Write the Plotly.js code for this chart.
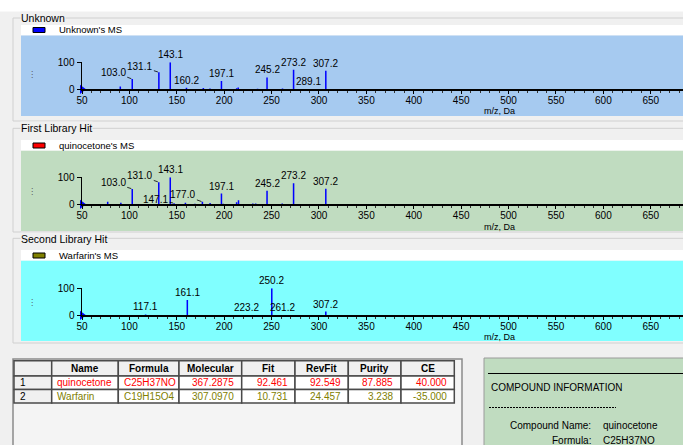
<!DOCTYPE html>
<html><head><meta charset="utf-8">
<script src="https://cdn.plot.ly/plotly-3.0.1.min.js"></script>
<style>html,body{margin:0;padding:0;background:#F0F0F0;overflow:hidden}#chart{width:683px;height:445px}</style>
</head><body><div id="chart"></div>
<script>
// ---------------- DATA ----------------
const unknownMz  = [90.4, 103.0, 131.1, 143.1, 160.2, 178.0, 185.0, 197.1, 213.2, 214.8, 235.2, 245.2, 261.5, 273.2, 289.1, 307.2];
const unknownInt = [10,   38,    63,    100,   6,     5,     3,     31,    4,     7,     2,     44,    3,     72,    1.5,   69];
const unknownLabelMz = [103.0, 131.1, 143.1, 160.2, 197.1, 245.2, 273.2, 289.1, 307.2];

const quinoMz  = [77.1, 91.0, 103.0, 131.0, 143.1, 147.1, 159.1, 169.1, 177.0, 185.1, 197.1, 199.1, 213.1, 215.1, 230.2, 233.2, 245.2, 261.2, 273.2, 307.2];
const quinoInt = [9,    6,    57,    82,    100,   4,     6,     2,     9,     5,     40,    2,     8,     15,    3,     3,     50,    3,     78,    58];
const quinoLabelMz = [103.0, 131.0, 143.1, 147.1, 177.0, 197.1, 245.2, 273.2, 307.2];

const warfMz  = [117.1, 161.1, 223.2, 250.2, 261.2, 307.2];
const warfInt = [3,     57,    1,     100,   1.5,   14];
const warfLabelMz = [117.1, 161.1, 223.2, 250.2, 261.2, 307.2];

const cursorMz = [50];
const cursorInt = [0];

const xTickStart = 50;
const xTickStep = 50;
const yTickVals = [0, 100];

const panelTitles = ["Unknown", "First Library Hit", "Second Library Hit"];
const legendNames = ["Unknown's MS", "quinocetone's MS", "Warfarin's MS"];
const xAxisTitle = "m/z, Da";

const tableHeader = ["", "Name", "Formula", "Molecular", "Fit", "RevFit", "Purity", "CE"];
const hitIndex     = ["1", "2"];
const hitName      = ["quinocetone", "Warfarin"];
const hitFormula   = ["C25H37NO", "C19H15O4"];
const hitMolecular = [367.2875, 307.0970];
const hitFit       = [92.461, 10.731];
const hitRevFit    = [92.549, 24.457];
const hitPurity    = [87.885, 3.238];
const hitCE        = [40.000, -35.000];

const infoTitle = "COMPOUND INFORMATION";
const infoKeys = ["Compound Name:", "Formula:"];
const infoVals = [hitName[0], hitFormula[0]];

// ---------------- STYLE ----------------
const W = 683, H = 445;
const px = v => v / W;
const py = v => 1 - v / H;
const FONT = "Liberation Sans, Arial, sans-serif";
const BAR_COLOR = "#0000FF";
const rowColors = ["#FF0000", "#808000"];

const panelStyle = [
  {base: 89.3,  boxTop: 18,    boxBot: 121, strip: [25, 35.5],   bg: [35.5, 116], bgColor: "#A6CAF0", swatch: "#0000FF", titleY: 18,    legY: 30,    gripY: 75,  mzTitleY: 111},
  {base: 204.3, boxTop: 128.3, boxBot: 232, strip: [140, 150.7], bg: [150.7, 231], bgColor: "#C0DCC0", swatch: "#FF0000", titleY: 128.3, legY: 145.5, gripY: 191, mzTitleY: 227},
  {base: 315.3, boxTop: 238.3, boxBot: 343, strip: [250, 260.7], bg: [260.7, 341], bgColor: "#80FFFF", swatch: "#808000", titleY: 239,   legY: 255.5, gripY: 302, mzTitleY: 337}
];
const leaderOffsets = [
  {"103.0": [-19, -7], "131.1": [-19, -6]},
  {"103.0": [-19, -6], "131.0": [-19, -6.5], "147.1": [-18.5, -4], "177.0": [-19.5, -7]},
  {}
];

const series = [
  {mz: unknownMz, int: unknownInt, lab: unknownLabelMz},
  {mz: quinoMz, int: quinoInt, lab: quinoLabelMz},
  {mz: warfMz, int: warfInt, lab: warfLabelMz}
];

const data = [];
const shapes = [];
const annotations = [];
const layout = {
  width: W, height: H,
  margin: {l: 0, r: 0, t: 0, b: 0, pad: 0},
  paper_bgcolor: "#F0F0F0",
  plot_bgcolor: "rgba(0,0,0,0)",
  showlegend: false,
  font: {family: FONT, size: 10, color: "#000"},
  shapes: shapes,
  annotations: annotations
};

shapes.push({type: "rect", xref: "paper", yref: "paper", x0: 0, x1: 1, y0: py(0), y1: py(11.5), fillcolor: "#FFFFFF", line: {width: 0}, layer: "below"});

series.forEach((s, i) => {
  const st = panelStyle[i];
  const n = i === 0 ? "" : String(i + 1);
  shapes.push({type: "rect", xref: "paper", yref: "paper", x0: px(13), x1: px(700), y0: py(st.boxBot), y1: py(st.boxTop), fillcolor: "rgba(0,0,0,0)", line: {color: "#D0D0D0", width: 1}, layer: "below"});
  shapes.push({type: "rect", xref: "paper", yref: "paper", x0: px(21), x1: 1, y0: py(st.strip[1]), y1: py(st.strip[0]), fillcolor: "#FFFFFF", line: {width: 0}, layer: "below"});
  shapes.push({type: "rect", xref: "paper", yref: "paper", x0: px(21), x1: 1, y0: py(st.bg[1]), y1: py(st.bg[0]), fillcolor: st.bgColor, line: {width: 0}, layer: "below"});
  const sy = st.legY;
  shapes.push({type: "rect", xref: "paper", yref: "paper", x0: px(33), x1: px(45), y0: py(sy + 2.5), y1: py(sy - 2.5), fillcolor: st.swatch, line: {color: "#000", width: 1}, layer: "above"});
  annotations.push({xref: "paper", yref: "paper", x: px(57), y: py(sy), xanchor: "left", yanchor: "middle", text: legendNames[i], showarrow: false, font: {size: 9.5, family: FONT}});
  annotations.push({xref: "paper", yref: "paper", x: px(20), y: py(st.titleY), xanchor: "left", yanchor: "middle", text: panelTitles[i], showarrow: false, bgcolor: "#F0F0F0", borderpad: 0, font: {size: 10.5, family: FONT}});
  annotations.push({xref: "paper", yref: "paper", x: px(32), y: py(st.gripY), xanchor: "center", yanchor: "middle", text: "⋮", showarrow: false, font: {size: 8, family: "DejaVu Sans", color: "#555"}});
  annotations.push({xref: "paper", yref: "paper", x: px(499), y: py(st.mzTitleY), xanchor: "center", yanchor: "middle", text: xAxisTitle, showarrow: false, borderpad: 0, font: {size: 9, family: FONT}});

  data.push({type: "bar", x: s.mz, y: s.int, xaxis: "x" + n, yaxis: "y" + n, width: 1.6, marker: {color: BAR_COLOR, line: {width: 0}}, hoverinfo: "skip"});
  data.push({type: "scatter", mode: "markers", x: cursorMz, y: cursorInt, xaxis: "x" + n, yaxis: "y" + n, cliponaxis: false, marker: {symbol: "triangle-right", size: 8, color: "#0000FF"}, hoverinfo: "skip"});

  layout["xaxis" + n] = {
    domain: [px(82), 1], range: [50, 684], anchor: "y" + n,
    showgrid: false, zeroline: false, showline: true, linecolor: "#000", linewidth: 2,
    ticks: "outside", ticklen: 3, tickwidth: 1, tickcolor: "#000",
    tick0: xTickStart, dtick: xTickStep, ticklabelstandoff: -2,
    minor: {dtick: 10, ticks: "outside", ticklen: 2, tickwidth: 1, tickcolor: "#333"},
    tickfont: {size: 10, family: FONT, color: "#000"}, fixedrange: true
  };
  layout["yaxis" + n] = {
    domain: [py(st.base), py(st.base - 27)], range: [0, 100], anchor: "x" + n,
    showgrid: false, zeroline: false, showline: true, linecolor: "#000", linewidth: 1.5,
    ticks: "outside", ticklen: 4, tickwidth: 1, tickcolor: "#000",
    tickmode: "array", tickvals: yTickVals, ticktext: yTickVals.map(String),
    tickfont: {size: 10, family: FONT, color: "#000"}, fixedrange: true
  };

  s.lab.forEach(m => {
    const idx = s.mz.indexOf(m);
    const h = s.int[idx];
    const t = m.toFixed(1);
    const off = leaderOffsets[i][t];
    if (off) {
      annotations.push({xref: "x" + n, yref: "y" + n, x: m, y: h, text: t, showarrow: true, arrowhead: 0, arrowwidth: 0.8, arrowcolor: "#000", ax: off[0], ay: off[1], standoff: 1, font: {size: 10, family: FONT, color: "#000"}});
    } else {
      annotations.push({xref: "x" + n, yref: "y" + n, x: m, y: h, text: t, showarrow: false, xanchor: "center", yanchor: "bottom", font: {size: 10, family: FONT, color: "#000"}});
    }
  });
});

// ---------- results table (drawn as cells) ----------
const colWidths = [37.7, 66.6, 60.7, 62.7, 53.3, 53.3, 52.7, 53.3];
const colAlign = ["left", "left", "left", "right", "right", "right", "right", "right"];
const tblX0 = 14, tblY0 = 360.7, headH = 15.3, rowH = 13.5;
const GRID = "#4A4A4A";
shapes.push({type: "rect", xref: "paper", yref: "paper", x0: px(13), x1: px(462), y0: py(460), y1: py(359), fillcolor: "#F4F4F4", line: {color: "#8A8A8A", width: 1.5}, layer: "below"});
const fmt = (arr, d) => arr.map(v => v.toFixed(d));
const colValues = [hitIndex, hitName, hitFormula, fmt(hitMolecular, 4), fmt(hitFit, 3), fmt(hitRevFit, 3), fmt(hitPurity, 3), fmt(hitCE, 3)];
let cx = tblX0;
colWidths.forEach((w, c) => {
  const x0 = cx, x1 = cx + w;
  shapes.push({type: "rect", xref: "paper", yref: "paper", x0: px(x0), x1: px(x1), y0: py(tblY0 + headH), y1: py(tblY0), fillcolor: "#F0F0F0", line: {color: GRID, width: 1.5}, layer: "below"});
  annotations.push({xref: "paper", yref: "paper", x: px((x0 + x1) / 2), y: py(tblY0 + headH / 2 + 0.3), xanchor: "center", yanchor: "middle", text: tableHeader[c] ? "<b>" + tableHeader[c] + "</b>" : "", showarrow: false, font: {size: 10, family: FONT, color: "#000"}});
  colValues[c].forEach((v, r) => {
    const y0 = tblY0 + headH + r * rowH, y1 = y0 + rowH;
    shapes.push({type: "rect", xref: "paper", yref: "paper", x0: px(x0), x1: px(x1), y0: py(y1), y1: py(y0), fillcolor: c === 0 ? "#F0F0F0" : "#FFFFFF", line: {color: GRID, width: 1.5}, layer: "below"});
    const left = colAlign[c] === "left";
    annotations.push({xref: "paper", yref: "paper", x: px(left ? x0 + 3.5 : x1 - 5.5), y: py((y0 + y1) / 2), xanchor: left ? "left" : "right", yanchor: "middle", text: v, showarrow: false, font: {size: 10, family: FONT, color: c === 0 ? "#000" : rowColors[r]}});
  });
  cx = x1;
});

// ---------- compound info panel ----------
shapes.push({type: "rect", xref: "paper", yref: "paper", x0: px(484), x1: px(700), y0: py(460), y1: py(358), fillcolor: "#C0DCC0", line: {color: "#9A9A9A", width: 1}, layer: "below"});
shapes.push({type: "line", xref: "paper", yref: "paper", x0: px(488), x1: 1, y0: py(373.5), y1: py(373.5), line: {color: "#000", width: 1}, layer: "above"});
shapes.push({type: "line", xref: "paper", yref: "paper", x0: px(489), x1: px(616), y0: py(407.5), y1: py(407.5), line: {color: "#000", width: 1, dash: "2px,1px"}, layer: "above"});
annotations.push({xref: "paper", yref: "paper", x: px(489), y: py(387), xanchor: "left", yanchor: "middle", text: infoTitle, showarrow: false, font: {size: 10, family: FONT}});
infoKeys.forEach((k, i) => {
  const yy = 425 + i * 15.5;
  annotations.push({xref: "paper", yref: "paper", x: px(593), y: py(yy), xanchor: "right", yanchor: "middle", text: k, showarrow: false, font: {size: 10, family: FONT}});
  annotations.push({xref: "paper", yref: "paper", x: px(601), y: py(yy), xanchor: "left", yanchor: "middle", text: infoVals[i], showarrow: false, font: {size: 10, family: FONT}});
});

Plotly.newPlot("chart", data, layout, {staticPlot: true, displayModeBar: false});
</script>
</body></html>
